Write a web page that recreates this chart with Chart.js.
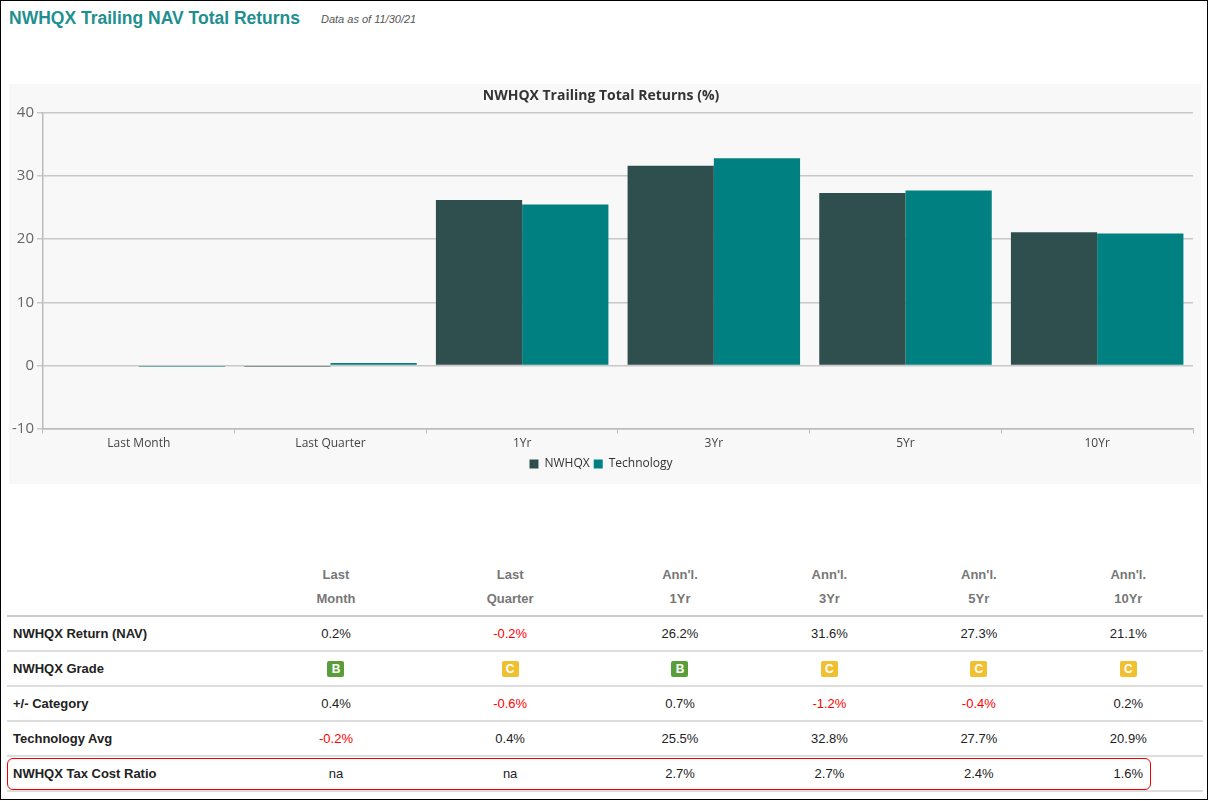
<!DOCTYPE html>
<html>
<head>
<meta charset="utf-8">
<script src="https://cdn.jsdelivr.net/npm/chart.js@4"></script>
<style>
  body { margin: 0; background: #fff; font-family: "Liberation Sans", Arial, sans-serif; }
  #page { position: absolute; left: 0; top: 0; width: 1206px; height: 798px; border: 1px solid #000; }
  #title { position: absolute; left: 8px; top: 7px; font-size: 17.5px; font-weight: bold; color: #1f8f8f; }
  #asof { position: absolute; left: 320px; top: 12px; font-size: 11px; font-style: italic; color: #555; }
  #chartbox { position: absolute; left: 8px; top: 83px; width: 1192px; height: 400px; background: #f8f8f8; }
  table { position: absolute; left: 6px; top: 562px; width: 1196px; border-collapse: collapse; font-size: 13px; color: #222; }
  th { color: #777; font-weight: bold; line-height: 24px; padding: 0 0 4px 0; border-bottom: 2px solid #ccc; }
  td { height: 33px; text-align: center; border-bottom: 2px solid #ddd; padding: 0; }
  td.lbl { text-align: left; font-weight: bold; padding-left: 6px; }
  .neg { color: #f00; }
  .g { display: inline-block; width: 17px; height: 16px; line-height: 16px; border-radius: 2px; color: #fff; font-weight: bold; font-size: 12px; }
  .B { background: #5a9e3a; } .C { background: #f0c030; }
  #redbox { position: absolute; left: 6px; top: 757px; width: 1142px; height: 30px; border: 1.5px solid #e00; border-radius: 6px; }
</style>
</head>
<body>
<div id="page">
  <div id="title">NWHQX Trailing NAV Total Returns</div>
  <div id="asof">Data as of 11/30/21</div>
  <div id="chartbox"><canvas id="canvas" width="1192" height="400"></canvas></div>
  <table id="tbl"></table>
  <div id="redbox"></div>
</div>
<script>
var categories = ["Last Month", "Last Quarter", "1Yr", "3Yr", "5Yr", "10Yr"];
var fundReturns = [0, -0.2, 26.2, 31.6, 27.3, 21.1];
var techReturns = [-0.2, 0.4, 25.5, 32.8, 27.7, 20.9];

var headTop = ["Last", "Last", "Ann'l.", "Ann'l.", "Ann'l.", "Ann'l."];
var headBottom = ["Month", "Quarter", "1Yr", "3Yr", "5Yr", "10Yr"];
var rowReturn = ["0.2%", "-0.2%", "26.2%", "31.6%", "27.3%", "21.1%"];
var rowGrade = ["B", "C", "B", "C", "C", "C"];
var rowCategory = ["0.4%", "-0.6%", "0.7%", "-1.2%", "-0.4%", "0.2%"];
var rowTechAvg = ["-0.2%", "0.4%", "25.5%", "32.8%", "27.7%", "20.9%"];
var rowTaxCost = ["na", "na", "2.7%", "2.7%", "2.4%", "1.6%"];

/* table */
var html = "<tr><th style='width:250px'></th>";
for (var i = 0; i < categories.length; i++) {
    html += "<th>" + headTop[i] + "<br>" + headBottom[i] + "</th>";
}
html += "</tr>";
function addRow(label, vals, grade) {
    var s = "<tr><td class='lbl'>" + label + "</td>";
    for (var i = 0; i < vals.length; i++) {
        if (grade) s += "<td><span class='g " + vals[i] + "'>" + vals[i] + "</span></td>";
        else s += "<td" + (vals[i].charAt(0) == "-" ? " class='neg'" : "") + ">" + vals[i] + "</td>";
    }
    return s + "</tr>";
}
html += addRow("NWHQX Return (NAV)", rowReturn);
html += addRow("NWHQX Grade", rowGrade, true);
html += addRow("+/- Category", rowCategory);
html += addRow("Technology Avg", rowTechAvg);
html += addRow("NWHQX Tax Cost Ratio", rowTaxCost);
document.getElementById("tbl").innerHTML = html;

/* chart */
var ctx = document.getElementById("canvas").getContext("2d");
var canvas = new Chart(ctx, {
    type: 'bar',
    data: {
        labels: categories,
        datasets: [
            { label: 'NWHQX', backgroundColor: "#2f4f4f", data: fundReturns },
            { label: 'Technology', backgroundColor: "#008080", data: techReturns }
        ]
    },
    options: {
        responsive: false,
        animation: false,
        layout: { padding: { left: 0, right: 8, top: 0, bottom: 4 } },
        datasets: { bar: { categoryPercentage: 0.9, barPercentage: 1.0 } },
        plugins: {
            title: {
                display: true, text: 'NWHQX Trailing Total Returns (%)',
                color: '#333', font: { family: 'Open Sans', size: 14, weight: 'bold' },
                padding: { top: 4, bottom: 8 }
            },
            legend: {
                position: 'bottom',
                labels: { boxWidth: 9, boxHeight: 9, padding: 4, color: '#333', font: { family: 'Open Sans', size: 12 } }
            },
            tooltip: { enabled: false }
        },
        scales: {
            x: {
                grid: { display: true, drawOnChartArea: false, color: '#bbb', tickLength: 5 },
                border: { color: '#bbb', width: 1.5 },
                ticks: { color: '#444', maxRotation: 0, font: { family: 'Open Sans', size: 12 } }
            },
            y: {
                min: -10, max: 40,
                ticks: { stepSize: 10, color: '#666', font: { family: 'Open Sans', size: 15 } },
                grid: { color: '#c8c8c8', lineWidth: 1.5, tickLength: 6 },
                border: { color: '#bbb', width: 1.5 }
            }
        }
    }
});
</script>
</body>
</html>
